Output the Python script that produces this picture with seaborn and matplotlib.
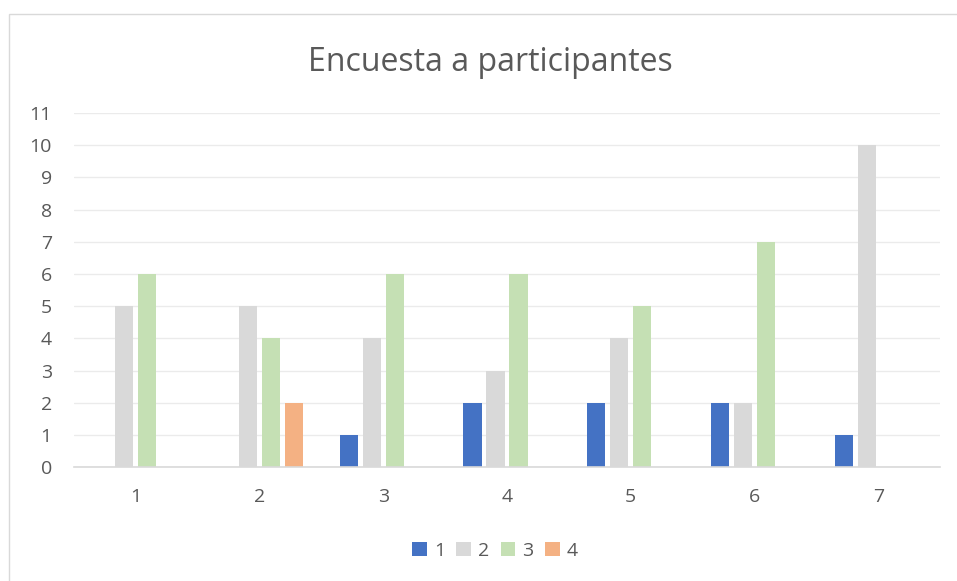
import pandas as pd
import matplotlib.pyplot as plt
import seaborn as sns
from matplotlib.patches import Rectangle

# datos de la encuesta
categorias = ['1', '2', '3', '4', '5', '6', '7']
serie_1 = [0, 0, 1, 2, 2, 2, 1]
serie_2 = [5, 5, 4, 3, 4, 2, 10]
serie_3 = [6, 4, 6, 6, 5, 7, 0]
serie_4 = [0, 2, 0, 0, 0, 0, 0]
series = ['1', '2', '3', '4']
colores = ['#4472C4', '#D9D9D9', '#C5E0B4', '#F4B183']

df = pd.DataFrame({'categoria': categorias, '1': serie_1, '2': serie_2,
                   '3': serie_3, '4': serie_4})
df = df.melt(id_vars='categoria', var_name='serie', value_name='valor')

sns.set_style('white')
plt.rcParams['font.family'] = ['Open Sans', 'DejaVu Sans']
texto = '#595959'

fig = plt.figure(figsize=(9.57, 5.81), dpi=100)
ax = fig.add_axes([0.0773, 0.196, 0.905, 0.6094])

sns.barplot(data=df, x='categoria', y='valor', hue='serie', hue_order=series,
            palette=colores, width=0.745, gap=0.21, ax=ax, saturation=1,
            errorbar=None, linewidth=0)

ax.set_ylim(0, 11)
ax.set_yticks(range(0, 12))
ax.set_xlim(-0.5, 6.5)
ax.yaxis.grid(True, color='#EBEBEB', linewidth=1)
ax.set_axisbelow(True)
for lado in ['top', 'right', 'left']:
    ax.spines[lado].set_visible(False)
ax.spines['bottom'].set_color('#D9D9D9')
ax.spines['bottom'].set_linewidth(1.2)
ax.tick_params(axis='both', length=0, labelsize=14, colors=texto)
ax.tick_params(axis='x', pad=15)
ax.tick_params(axis='y', pad=16)
ax.set_xlabel('')
ax.set_ylabel('')

fig.text(0.512, 0.893, 'Encuesta a participantes', ha='center', va='center',
         fontsize=23, color=texto)

ax.legend(loc='center', bbox_to_anchor=(0.486, 1 - (551 - 113) / 354.0),
          bbox_transform=ax.transAxes, ncol=4, frameon=False, fontsize=14,
          labelcolor=texto, handlelength=0.75, handleheight=0.75,
          handletextpad=0.35, columnspacing=0.6)

fig.patches.append(Rectangle((9 / 957, -0.1), 1.1, 1 - 14 / 581 + 0.1,
                             transform=fig.transFigure, fill=False,
                             edgecolor='#D9D9D9', linewidth=1))

plt.savefig('out.png', dpi=100)
plt.close()
